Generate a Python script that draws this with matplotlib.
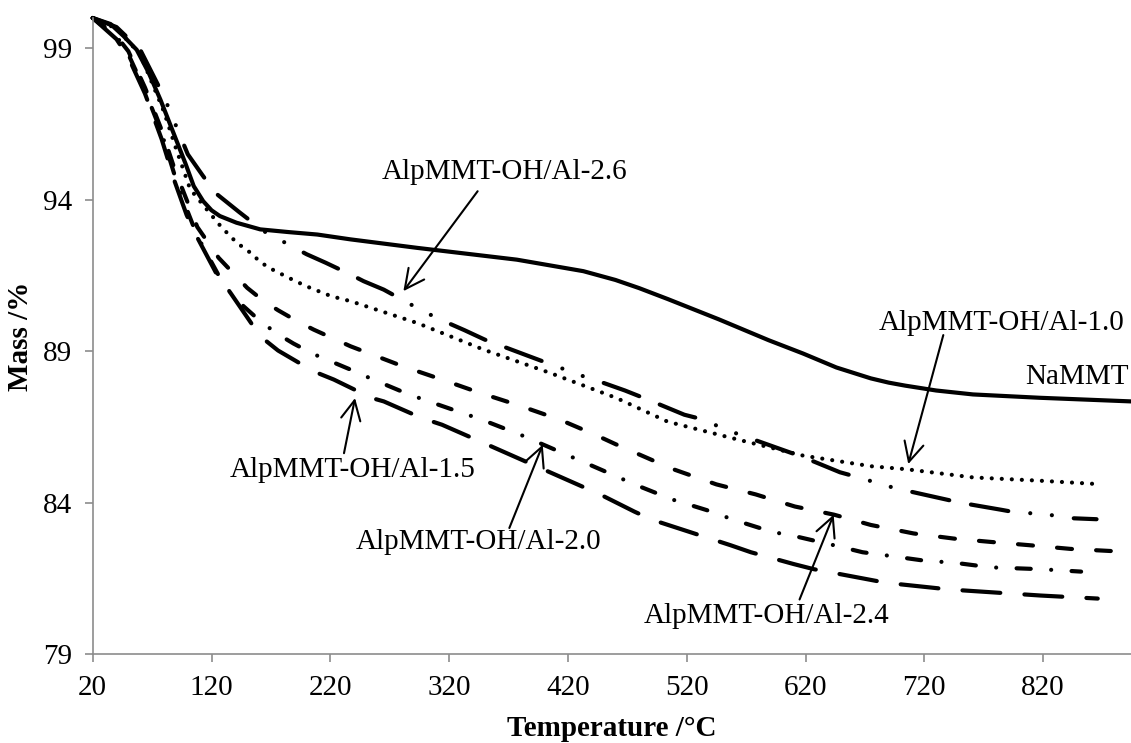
"""
TGA mass-loss curves of NaMMT and the Al-pillared AlpMMT-OH/Al samples.
"""
import matplotlib
matplotlib.use("Agg")
import matplotlib.pyplot as plt

# --- Data (temperature in C, mass in %) ---
t_na = [20, 35, 46, 57, 67, 77, 88, 98, 105, 113, 120, 127, 141, 161, 185, 209, 237,
        293, 377, 433, 460, 480, 504, 547, 589, 618, 646, 675, 690, 704, 730, 761, 817, 894]
m_na = [100.0, 99.8, 99.4, 98.95, 98.2, 97.3, 96.2, 95.2, 94.45, 93.95, 93.65, 93.46,
        93.24, 93.02, 92.93, 92.85, 92.69, 92.41, 92.02, 91.64, 91.35, 91.08, 90.72,
        90.05, 89.36, 88.92, 88.46, 88.1, 87.96, 87.86, 87.7, 87.57, 87.46, 87.34]

t_10 = [20, 40, 60, 80, 90, 102, 126, 137, 144, 152, 159, 167, 176, 185, 194, 203,
        221, 237, 293, 349, 405, 461, 504, 561, 618, 675, 705, 761, 818, 862]
m_10 = [100.0, 99.65, 98.8, 96.9, 95.7, 94.35, 93.2, 92.74, 92.5, 92.27, 92.02, 91.78,
        91.6, 91.42, 91.25, 91.09, 90.81, 90.65, 89.93, 89.05, 88.28, 87.45, 86.67,
        86.1, 85.55, 85.2, 85.1, 84.83, 84.72, 84.62]

t_26 = [20, 40, 60, 80, 100, 112, 123, 143, 164, 182, 200, 216, 237, 248, 265, 298,
        315, 333, 350, 384, 399, 433, 450, 468, 486, 518, 530, 562, 618, 649, 661, 695,
        751, 785, 792, 828, 846, 865]
m_26 = [100.0, 99.7, 98.95, 97.4, 95.5, 94.83, 94.23, 93.6, 92.96, 92.58, 92.2, 91.92,
        91.53, 91.31, 91.03, 90.32, 90.0, 89.69, 89.38, 88.88, 88.66, 88.17, 87.95, 87.7,
        87.42, 86.9, 86.78, 86.28, 85.5, 85.0, 84.87, 84.48, 83.99, 83.76, 83.71, 83.58,
        83.48, 83.45]

t_24 = [20, 40, 50, 64, 78, 89, 99, 108, 126, 150, 164, 176, 192, 206, 237, 281, 314,
        346, 377, 413, 444, 460, 508, 545, 578, 611, 644, 675, 711, 745, 776, 809, 843, 877]
m_24 = [100.0, 99.4, 98.9, 97.7, 96.3, 95.0, 94.0, 93.1, 92.08, 91.09, 90.65, 90.35,
        89.99, 89.71, 89.16, 88.5, 88.06, 87.62, 87.23, 86.74, 86.22, 85.93, 85.11, 84.6,
        84.27, 83.87, 83.6, 83.26, 82.98, 82.81, 82.7, 82.59, 82.47, 82.4]

t_20 = [20, 40, 50, 64, 78, 89, 99, 108, 126, 136, 147, 161, 175, 189, 206, 237, 255,
        280, 297, 331, 346, 380, 460, 476, 508, 541, 558, 592, 610, 644, 668, 689, 724,
        742, 776, 818, 852]
m_20 = [100.0, 99.4, 98.8, 97.6, 96.2, 94.8, 93.7, 92.8, 91.5, 90.92, 90.48, 89.99,
        89.58, 89.25, 88.9, 88.39, 88.08, 87.67, 87.42, 86.96, 86.76, 86.24, 84.88, 84.6,
        84.1, 83.7, 83.45, 83.03, 82.9, 82.59, 82.36, 82.25, 82.06, 82.03, 81.86, 81.8,
        81.72]

t_15 = [20, 40, 50, 64, 78, 89, 99, 106, 126, 136, 161, 176, 206, 223, 255, 265, 297,
        314, 346, 447, 476, 491, 557, 574, 610, 627, 688, 741, 818, 866]
m_15 = [100.0, 99.3, 98.7, 97.5, 96.0, 94.6, 93.5, 92.9, 91.42, 90.92, 89.49, 89.02,
        88.33, 88.06, 87.45, 87.34, 86.79, 86.57, 86.02, 84.27, 83.7, 83.43, 82.59, 82.36,
        81.97, 81.8, 81.35, 81.13, 80.93, 80.83]

x_ticks = [20, 120, 220, 320, 420, 520, 620, 720, 820]
y_ticks = [79, 84, 89, 94, 99]

plt.rcParams["font.family"] = ["Liberation Serif", "DejaVu Serif"]

fig = plt.figure(figsize=(11.31, 7.43), dpi=100)
ax = fig.add_axes([0.082, 0.1198, 0.918, 0.856])

lw = 3.0
common = dict(color="black", linewidth=lw, dash_capstyle="round",
              solid_capstyle="round", solid_joinstyle="round", clip_on=False)
ax.plot(t_na, m_na, linestyle="-", **common)
ax.plot(t_10, m_10, linestyle=(0, (0.01, 2.4)), **common)
ax.plot(t_26, m_26, linestyle=(0, (9.1, 5.3, 9.1, 5.3, 0.01, 5.2, 0.01, 5.3)), **common)
ax.plot(t_24, m_24, linestyle=(0, (3.6, 5.8)), **common)
ax.plot(t_20, m_20, linestyle=(0, (3.4, 4.9, 0.01, 4.9)), **common)
ax.plot(t_15, m_15, linestyle=(0, (9.1, 5.8)), **common)

ax.set_xlim(20, 894)
ax.set_ylim(79, 100)
ax.set_xticks(x_ticks)
ax.set_yticks(y_ticks)

for side in ("top", "right"):
    ax.spines[side].set_visible(False)
for side in ("left", "bottom"):
    ax.spines[side].set_color("#8c8c8c")
    ax.spines[side].set_linewidth(1.2)
ax.tick_params(axis="both", direction="out", length=6, width=1.2, color="#8c8c8c",
               labelsize=21, pad=9)

ax.set_xlabel("Temperature /\u00b0C", fontsize=21, fontweight="bold", labelpad=10)
ax.set_ylabel("Mass /%", fontsize=21, fontweight="bold", labelpad=6)

# --- Labels with arrows: (text, text pos, arrow tail, arrow tip) ---
notes = [
    ("AlpMMT-OH/Al-2.6", (367, 94.9), (344, 94.28), (281.5, 90.98)),
    ("AlpMMT-OH/Al-1.0", (785, 89.92), (736, 89.53), (706.5, 85.27)),
    ("AlpMMT-OH/Al-2.4", (587, 80.24), (615, 80.8), (643.7, 83.6)),
    ("AlpMMT-OH/Al-1.5", (238.7, 85.08), (231.5, 85.63), (240.8, 87.45)),
    ("AlpMMT-OH/Al-2.0", (345, 82.71), (370.7, 83.16), (398.8, 85.91)),
]
for text, pos, tail, tip in notes:
    ax.text(pos[0], pos[1], text, fontsize=21, ha="center", va="center")
    ax.annotate("", xy=tip, xytext=tail,
                arrowprops=dict(arrowstyle="->,head_length=0.7,head_width=0.35",
                                color="black", lw=1.5, mutation_scale=20,
                                shrinkA=0, shrinkB=0))

ax.text(892, 88.16, "NaMMT", fontsize=21, ha="right", va="center")

plt.savefig("out.png", dpi=100)
plt.close()
